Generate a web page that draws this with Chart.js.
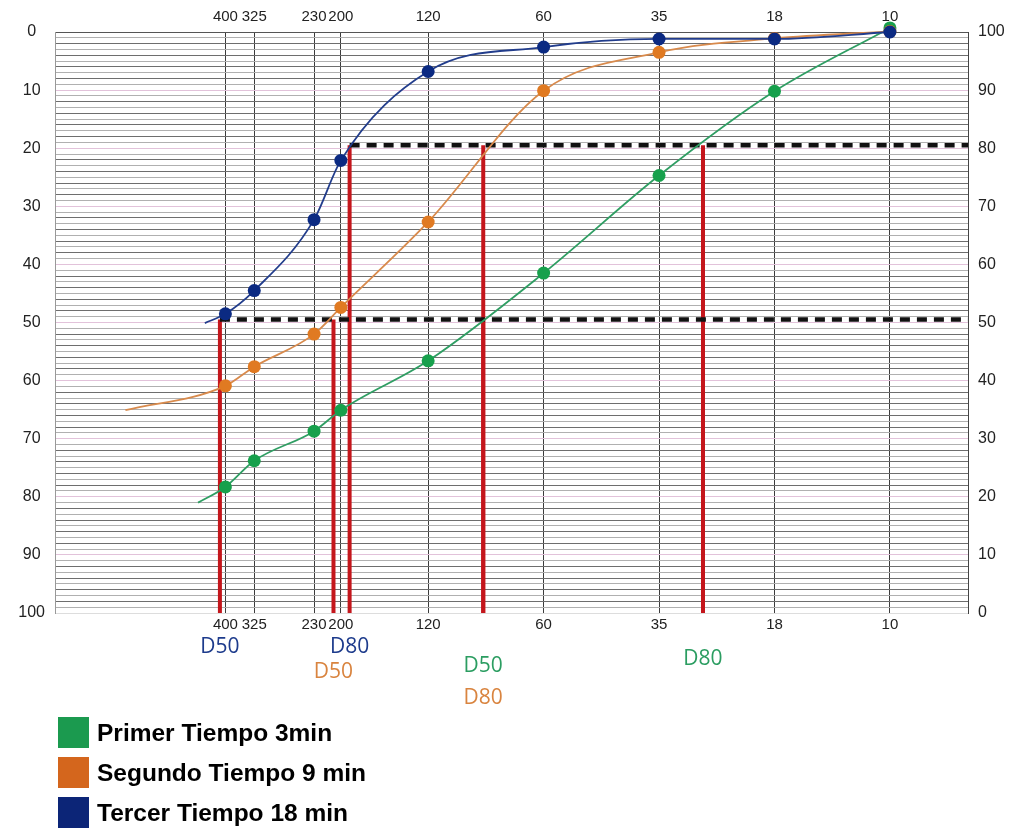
<!DOCTYPE html>
<html>
<head>
<meta charset="utf-8">
<script src="https://cdn.jsdelivr.net/npm/chart.js@4.4.1/dist/chart.umd.min.js"></script>
<style>
html,body{margin:0;padding:0;background:#fff;}
#wrap{position:relative;width:1013px;height:829px;overflow:hidden;}
#legend{position:absolute;left:58px;top:717px;font-family:"Liberation Sans",Arial,sans-serif;font-weight:bold;font-size:24.5px;color:#000;}
.item{display:flex;align-items:center;height:31px;margin-bottom:9px;white-space:nowrap;}
.sw{width:31px;height:31px;margin-right:8px;flex:none;}
</style>
</head>
<body>
<div id="wrap">
<canvas id="c" width="1013" height="829"></canvas>
<div id="legend"></div>
</div>
<script>
// ---- data ----
const meshLabels = ['400', '325', '230', '200', '120', '60', '35', '18', '10'];
const sieveMicrons = [37, 44, 63, 74, 125, 250, 500, 1000, 2000];
const primerTiempo = [21.7, 26.2, 31.3, 34.9, 43.4, 58.5, 75.3, 89.8, 100.7];
const segundoTiempo = [39.1, 42.4, 48.0, 52.6, 67.3, 89.9, 96.5, 98.9, 100.1];
const tercerTiempo = [51.5, 55.5, 67.7, 77.9, 93.2, 97.4, 98.8, 98.8, 100.0];
const seriesNames = ['Primer Tiempo 3min', 'Segundo Tiempo 9 min', 'Tercer Tiempo 18 min'];
const tailMicrons = [31.4, 20.3, 32.7];
const tailPassing = [19.0, 34.9, 49.9];
const d50Microns = [174, 70.8, 35.8];
const d80Microns = [651, 174, 78];
const d50Level = 50.5;
const d80Level = 80.5;
const xMin = 13.3;
const xMax = 3196;
const leftTickLabels = ['100', '90', '80', '70', '60', '50', '40', '30', '20', '10', '0'];
const rightTickLabels = ['0', '10', '20', '30', '40', '50', '60', '70', '80', '90', '100'];

// ---- styles ----
const lineColors = ['#2f9e63', '#d88a4c', '#223d8c'];
const dotColors = ['#17a04c', '#e07a22', '#0b2a82'];
const swatchColors = ['#1b9a4f', '#d4661d', '#0c2577'];
const labelColors = ['#2b9d61', '#d9843f', '#1d3b8c'];
const redColor = '#c4161c';
const tickFont = '"Liberation Sans", Arial, sans-serif';

const allSeries = [primerTiempo, segundoTiempo, tercerTiempo];

function seriesPoints(vals, i) {
  return [{x: tailMicrons[i], y: tailPassing[i]}].concat(
    sieveMicrons.map((m, j) => ({x: m, y: vals[j]})));
}

const datasets = [];
const drawOrder = [3, 2, 1];
allSeries.forEach((vals, i) => {
  datasets.push({
    label: seriesNames[i],
    data: seriesPoints(vals, i),
    borderColor: lineColors[i],
    borderWidth: 1.8,
    backgroundColor: dotColors[i],
    pointBackgroundColor: dotColors[i],
    pointBorderWidth: 0,
    pointRadius: [0].concat(sieveMicrons.map(() => 6.5)),
    cubicInterpolationMode: 'monotone',
    order: drawOrder[i],
    clip: false,
    xAxisID: 'x', yAxisID: 'y'
  });
});
[[d80Level, Math.min(...d80Microns)], [d50Level, Math.min(...d50Microns)]].forEach(([lvl, start]) => {
  datasets.push({
    label: 'ref' + lvl,
    data: [{x: start, y: lvl}, {x: xMax, y: lvl}],
    borderColor: '#111',
    borderWidth: 4.5,
    borderDash: [10, 7],
    pointRadius: 0,
    order: 4,
    xAxisID: 'x', yAxisID: 'y'
  });
});
allSeries.forEach((vals, i) => {
  [[d50Microns[i], d50Level], [d80Microns[i], d80Level]].forEach(([m, lvl]) => {
    datasets.push({
      label: 'D' + i + lvl,
      data: [{x: m, y: 0}, {x: m, y: lvl}],
      borderColor: redColor,
      borderWidth: 4,
      pointRadius: 0,
      order: 5,
      xAxisID: 'x', yAxisID: 'y'
    });
  });
});

const dLabels = [
  {text: 'D50', series: 2, micron: d50Microns[2], top: 647},
  {text: 'D80', series: 2, micron: d80Microns[2], top: 647},
  {text: 'D50', series: 1, micron: d50Microns[1], top: 672},
  {text: 'D80', series: 1, micron: d80Microns[1], top: 698},
  {text: 'D50', series: 0, micron: d50Microns[0], top: 666},
  {text: 'D80', series: 0, micron: d80Microns[0], top: 659}
];
const dLabelPlugin = {
  id: 'dLabels',
  afterDraw(chart) {
    const ctx = chart.ctx;
    const xs = chart.scales.x;
    ctx.save();
    ctx.font = '21px "Open Sans", sans-serif';
    ctx.textAlign = 'center';
    ctx.textBaseline = 'middle';
    dLabels.forEach(l => {
      ctx.fillStyle = labelColors[l.series];
      ctx.fillText(l.text, xs.getPixelForValue(l.micron), l.top);
    });
    ctx.restore();
  }
};

function sieveTicks(s) { s.ticks = sieveMicrons.map(v => ({value: v})); }
function percentTicks(s) { const t = []; for (let v = 0; v <= 100; v++) t.push({value: v}); s.ticks = t; }
function tenTicks(s) { s.ticks = rightTickLabels.map(v => ({value: Number(v)})); }

new Chart(document.getElementById('c'), {
  type: 'line',
  data: {datasets},
  plugins: [dLabelPlugin],
  options: {
    responsive: false,
    animation: false,
    devicePixelRatio: 1,
    layout: {padding: 0},
    plugins: {legend: {display: false}, tooltip: {enabled: false}},
    scales: {
      x: {
        type: 'logarithmic', position: 'bottom', min: xMin, max: xMax,
        afterBuildTicks: sieveTicks,
        afterFit: s => { s.height = 216; },
        ticks: {autoSkip: false, maxRotation: 0, padding: 3, color: '#222',
                font: {family: tickFont, size: 15},
                callback: (v, i) => meshLabels[i]},
        grid: {color: '#3c3c3c', lineWidth: 1, drawTicks: false},
        border: {display: false}
      },
      x2: {
        type: 'logarithmic', position: 'top', min: xMin, max: xMax,
        afterBuildTicks: sieveTicks,
        afterFit: s => { s.height = 32; },
        ticks: {autoSkip: false, maxRotation: 0, padding: 6, color: '#222',
                font: {family: tickFont, size: 15},
                callback: (v, i) => meshLabels[i]},
        grid: {display: false, drawTicks: false},
        border: {display: false}
      },
      y: {
        type: 'linear', position: 'left', min: 0, max: 100,
        afterBuildTicks: percentTicks,
        afterFit: s => { s.width = 55; },
        ticks: {autoSkip: false, crossAlign: 'center', padding: 10, color: '#222',
                font: {family: tickFont, size: 16},
                callback: v => (v % 10 === 0 ? leftTickLabels[v / 10] : '')},
        grid: {
          drawTicks: false, lineWidth: 1,
          color: c => {
            const v = c.tick.value;
            if (v === 100) return '#555';
            if (v === 0) return '#ddd';
            if (v % 10 === 0) return '#e2c2da';
            return v % 2 ? '#b0b0b0' : '#6e6e6e';
          }
        },
        border: {display: true, color: '#999'}
      },
      y2: {
        type: 'linear', position: 'right', min: 0, max: 100,
        afterBuildTicks: tenTicks,
        afterFit: s => { s.width = 45; },
        ticks: {autoSkip: false, padding: 10, color: '#222',
                font: {family: tickFont, size: 16},
                callback: v => String(v)},
        grid: {display: false, drawTicks: false},
        border: {display: true, color: '#444'}
      }
    }
  }
});

const lg = document.getElementById('legend');
seriesNames.forEach((n, i) => {
  const it = document.createElement('div');
  it.className = 'item';
  const sw = document.createElement('span');
  sw.className = 'sw';
  sw.style.background = swatchColors[i];
  const tx = document.createElement('span');
  tx.textContent = n;
  it.appendChild(sw); it.appendChild(tx);
  lg.appendChild(it);
});
</script>
</body>
</html>
